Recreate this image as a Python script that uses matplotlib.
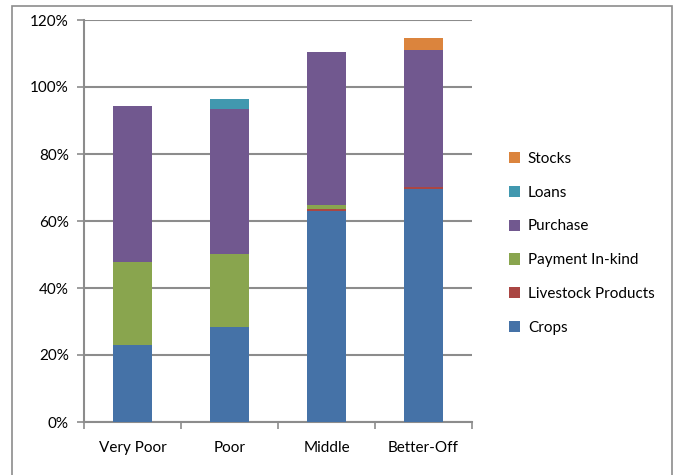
import matplotlib
matplotlib.use("Agg")
import matplotlib.pyplot as plt
from matplotlib.patches import Rectangle, Patch
from matplotlib.ticker import FuncFormatter, FixedLocator
import numpy as np

plt.rcParams['font.family'] = ['Lato', 'DejaVu Sans']

groups = ['Very Poor', 'Poor', 'Middle', 'Better-Off']
crops = [23.0, 28.4, 63.0, 69.6]
livestock = [0.0, 0.0, 0.6, 0.5]
payment = [24.8, 21.7, 1.2, 0.0]
purchase = [46.5, 43.3, 45.6, 40.9]
loans = [0.0, 3.0, 0.0, 0.0]
stocks = [0.0, 0.0, 0.0, 3.6]

series = [
    ('Crops', crops, '#4572A7'),
    ('Livestock Products', livestock, '#AA4643'),
    ('Payment In-kind', payment, '#89A54E'),
    ('Purchase', purchase, '#71588F'),
    ('Loans', loans, '#4198AF'),
    ('Stocks', stocks, '#DB843D'),
]

fig = plt.figure(figsize=(6.74, 4.75), dpi=100)
ax = fig.add_axes([84/674, 1-422/475, (472-84)/674, (422-20)/475])

x = np.arange(len(groups))
bottom = np.zeros(len(groups))
handles = []
for name, vals, col in series:
    ax.bar(x, vals, 0.4, bottom=bottom, color=col, zorder=3)
    bottom += np.array(vals)
    handles.append(Patch(facecolor=col, label=name))

ax.set_xlim(-0.5, 3.5)
ax.set_ylim(0, 120)
ax.set_yticks(np.arange(0, 121, 20))
ax.yaxis.set_major_formatter(FuncFormatter(lambda v, p: '%d%%' % v))
ax.grid(axis='y', color='#8c8c8c', linewidth=1.5, zorder=0)

ax.set_xticks(x)
ax.set_xticklabels(groups)
ax.xaxis.set_minor_locator(FixedLocator(np.arange(-0.5, 3.6, 1)))
ax.tick_params(axis='x', which='major', length=0, pad=14, labelsize=11)
ax.tick_params(axis='x', which='minor', length=5, color='#8c8c8c', width=1.2)
ax.tick_params(axis='y', length=5, color='#8c8c8c', width=1.2, labelsize=11, pad=6)

for s in ['top', 'right']:
    ax.spines[s].set_visible(False)
for s in ['left', 'bottom']:
    ax.spines[s].set_color('#8c8c8c')
    ax.spines[s].set_linewidth(1.5)

leg = fig.legend(handles=handles[::-1], loc='upper left',
                 bbox_to_anchor=(495/674, 1-138/475), frameon=False,
                 fontsize=11, handlelength=0.75, handleheight=0.75,
                 handletextpad=0.5, labelspacing=1.3)

fig.patches.append(Rectangle((12/674, -0.01), (672-12)/674, 1-6/475+0.01,
                             transform=fig.transFigure, fill=False,
                             edgecolor='#8c8c8c', linewidth=1.2))

fig.savefig('out.png', dpi=100)
